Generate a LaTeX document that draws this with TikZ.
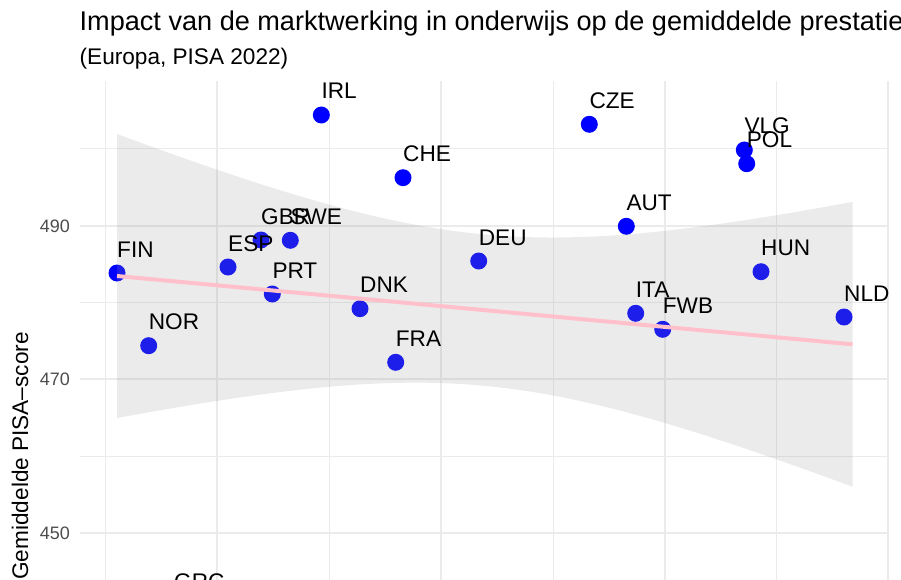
\documentclass[tikz,border=0pt]{standalone}
\usepackage{fontspec}
\setmainfont{Liberation Sans}
\usetikzlibrary{calc}
\definecolor{gridgray}{HTML}{EBEBEB}
\definecolor{ticktext}{HTML}{4D4D4D}
\definecolor{fitpink}{HTML}{FFC0CB}
\definecolor{bandgray}{HTML}{999999}
\def\countries{117/273/FIN, 228/267/ESP, 261/240/GBR, 290.3/240.3/SWE, 272.3/294/PRT, 321.3/115/IRL, 403/177.7/CHE, 360/308.7/DNK, 148.7/345.7/NOR, 395.7/362.3/FRA, 478.7/261/DEU, 589.3/124.3/CZE, 626.3/226.3/AUT, 744.3/150/VLG, 746.7/163.7/POL, 761/271.7/HUN, 635.7/313.3/ITA, 662.7/329.3/FWB, 844/317/NLD, 174/605/GRC}
\def\fitmid#1{276+0.0929*(#1-117)}
\def\fithalf#1{10*sqrt(57.28+10.718*((#1-484)/100)^2)}
\tikzset{
	majorgrid/.style={gridgray, line width=2pt},
	minorgrid/.style={gridgray, line width=1pt},
	dot/.style={circle, fill=blue, inner sep=0pt, minimum size=17pt},
	ribbon/.style={fill=bandgray, fill opacity=0.2},
	fitline/.style={fitpink, line width=4pt},
	isolabel/.style={anchor=base west, inner sep=0pt, font=\fontsize{22.6}{26}\selectfont},
	ticklabel/.style={anchor=east, inner sep=0pt, text=ticktext, font=\fontsize{18}{21}\selectfont},
}

\begin{document}
\begin{tikzpicture}[x=1pt, y=-1pt]
				%%%%% START %%%%%
				\useasboundingbox (0, 0) rectangle (901, 580);
				\clip (0, 0) rectangle (901, 580);
				
				\foreach \gy in {148.9, 302.5, 456.1}
					\draw[minorgrid] (80, \gy) -- (889, \gy);
				\foreach \gy in {225.7, 379.3, 532.9}
					\draw[majorgrid] (80, \gy) -- (889, \gy);
				\foreach \gx in {105, 329, 553.3, 776.7}
					\draw[minorgrid] (\gx, 81) -- (\gx, 580);
				\foreach \gx in {217.3, 441, 665, 888.3}
					\draw[majorgrid] (\gx, 81) -- (\gx, 580);
				
				\node[ticklabel] (t490) at (70, 226.2) {490};
				\node[ticklabel] (t470) at (70, 379.8) {470};
				\node[ticklabel] (t450) at (70, 533.4) {450};
				\node[rotate=90, anchor=base east, inner sep=0pt, font=\fontsize{22.6}{26}\selectfont] (ytitle) at (28, 332) {Gemiddelde PISA–score};
				
				\node[anchor=base west, inner sep=0pt, font=\fontsize{27.1}{32}\selectfont] (title) at (79.5, 30.7) {Impact van de marktwerking in onderwijs op de gemiddelde prestatie};
				\node[anchor=base west, inner sep=0pt, font=\fontsize{22.6}{26}\selectfont] (subtitle) at (79.5, 64.3) {(Europa, PISA 2022)};
				
				\foreach \px/\py/\n in \countries
					\node[dot] (\n) at (\px, \py) {};
				
				\fill[ribbon] plot[domain=117:852.5, samples=80] (\x, {\fitmid{\x}-\fithalf{\x}})
					-- plot[domain=852.5:117, samples=80] (\x, {\fitmid{\x}+\fithalf{\x}}) -- cycle;
				
				\coordinate (fitL) at (117, {\fitmid{117}});
				\coordinate (fitR) at (852.5, {\fitmid{852.5}});
				\draw[fitline] (fitL) -- (fitR);
				
				\foreach \px/\py/\n in \countries
					\node[isolabel] (\n-lab) at ($(\n)+(0, -16)$) {\n};
				%%%%% END %%%%%
\end{tikzpicture}
\end{document}
